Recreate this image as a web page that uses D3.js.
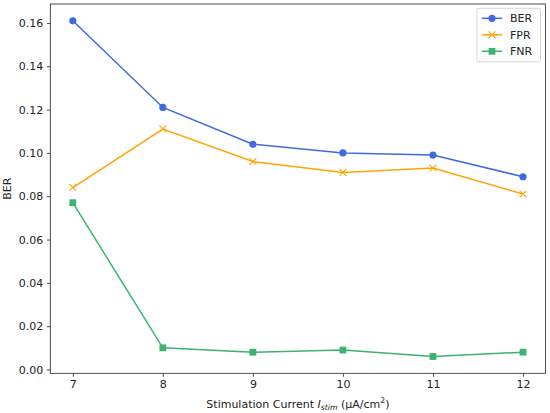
<!DOCTYPE html>
<html>
<head>
<meta charset="utf-8">
<script src="https://cdn.jsdelivr.net/npm/d3@7"></script>
<style>
  body { margin: 0; background: #fff; }
  text { font-family: "DejaVu Sans", sans-serif; fill: #222; }
</style>
</head>
<body>
<svg id="chart"></svg>
<script>
// Data
var currents = [7, 8, 9, 10, 11, 12];
var berValues = [0.161, 0.121, 0.104, 0.100, 0.099, 0.089];
var fprValues = [0.084, 0.111, 0.096, 0.091, 0.093, 0.081];
var fnrValues = [0.077, 0.010, 0.008, 0.009, 0.006, 0.008];
var yTicks = [0.00, 0.02, 0.04, 0.06, 0.08, 0.10, 0.12, 0.14, 0.16];

var series = [
    { name: "BER", values: berValues, color: "#4169E1", marker: "circle" },
    { name: "FPR", values: fprValues, color: "#FFA500", marker: "x" },
    { name: "FNR", values: fnrValues, color: "#3CB371", marker: "square" }
];

var margin = { top: 4, right: 4.5, bottom: 39.7, left: 50.3 },
    width = 550 - margin.left - margin.right,
    height = 413 - margin.top - margin.bottom;

var svg = d3.select("#chart")
    .attr("width", 550)
    .attr("height", 413)
    .append("g")
    .attr("transform", "translate(" + margin.left + "," + margin.top + ")");

var x = d3.scaleLinear().domain([6.75, 12.25]).range([0, width]);
var y = d3.scaleLinear().domain([-0.00175, 0.16875]).range([height, 0]);

// Axes
var xAxis = svg.append("g")
    .attr("transform", "translate(0," + height + ")")
    .call(d3.axisBottom(x).tickValues(currents).tickFormat(d3.format("d")).tickSize(3.5).tickPadding(3.5));
var yAxis = svg.append("g")
    .call(d3.axisLeft(y).tickValues(yTicks).tickFormat(d3.format(".2f")).tickSize(3.5).tickPadding(3.5));

[xAxis, yAxis].forEach(function(a) {
    a.select(".domain").remove();
    a.selectAll("line").attr("stroke", "#222").attr("stroke-width", 0.8);
    a.selectAll("text").style("font-size", "11px").attr("fill", "#222");
});

// Line series
var line = d3.line()
    .x(function(d, i) { return x(currents[i]); })
    .y(function(d) { return y(d); });

series.forEach(function(s) {
    svg.append("path")
        .datum(s.values)
        .attr("fill", "none")
        .attr("stroke", s.color)
        .attr("stroke-width", 1.5)
        .attr("d", line);

    drawMarkers(svg, s, s.values.map(function(v, i) { return [x(currents[i]), y(v)]; }));
});

function drawMarkers(g, s, pts) {
    pts.forEach(function(p) {
        drawMarker(g, s, p[0], p[1]);
    });
}

function drawMarker(g, s, cx, cy) {
    if (s.marker === "circle") {
        g.append("circle").attr("cx", cx).attr("cy", cy).attr("r", 3.6).attr("fill", s.color);
    } else if (s.marker === "square") {
        g.append("rect").attr("x", cx - 3.4).attr("y", cy - 3.4)
            .attr("width", 6.8).attr("height", 6.8).attr("fill", s.color);
    } else {
        var r = 3.4;
        g.append("path")
            .attr("d", "M" + (cx - r) + "," + (cy - r) + "L" + (cx + r) + "," + (cy + r) +
                "M" + (cx - r) + "," + (cy + r) + "L" + (cx + r) + "," + (cy - r))
            .attr("stroke", s.color).attr("stroke-width", 1.1).attr("fill", "none");
    }
}

// Frame
svg.append("rect")
    .attr("width", width).attr("height", height)
    .attr("fill", "none").attr("stroke", "#222").attr("stroke-width", 0.8);

// Axis labels
svg.append("text")
    .attr("x", width / 2)
    .attr("y", height + 34.5)
    .attr("text-anchor", "middle")
    .style("font-size", "11px")
    .html("Stimulation Current <tspan font-style='italic'>I</tspan><tspan font-style='italic' font-size='7.7px' dy='2'>stim</tspan><tspan dy='-2'> (μA/cm</tspan><tspan font-size='7.7px' dy='-4.5'>2</tspan><tspan dy='4.5'>)</tspan>");

svg.append("text")
    .attr("transform", "translate(" + (-39.5) + "," + (height / 2) + ") rotate(-90)")
    .attr("text-anchor", "middle")
    .style("font-size", "11px")
    .text("BER");

// Legend
var legend = svg.append("g").attr("transform", "translate(" + (width - 68.5) + ",4.3)");
legend.append("rect")
    .attr("width", 63.5).attr("height", 53.5).attr("rx", 2)
    .attr("fill", "#fff").attr("fill-opacity", 0.8)
    .attr("stroke", "#ccc").attr("stroke-width", 0.8);

series.forEach(function(s, i) {
    var ly = 10 + i * 16.5;
    legend.append("line")
        .attr("x1", 5).attr("x2", 25).attr("y1", ly).attr("y2", ly)
        .attr("stroke", s.color).attr("stroke-width", 1.5);
    drawMarker(legend, s, 15, ly);
    legend.append("text")
        .attr("x", 33).attr("y", ly + 4)
        .style("font-size", "11px")
        .text(s.name);
});
</script>
</body>
</html>
